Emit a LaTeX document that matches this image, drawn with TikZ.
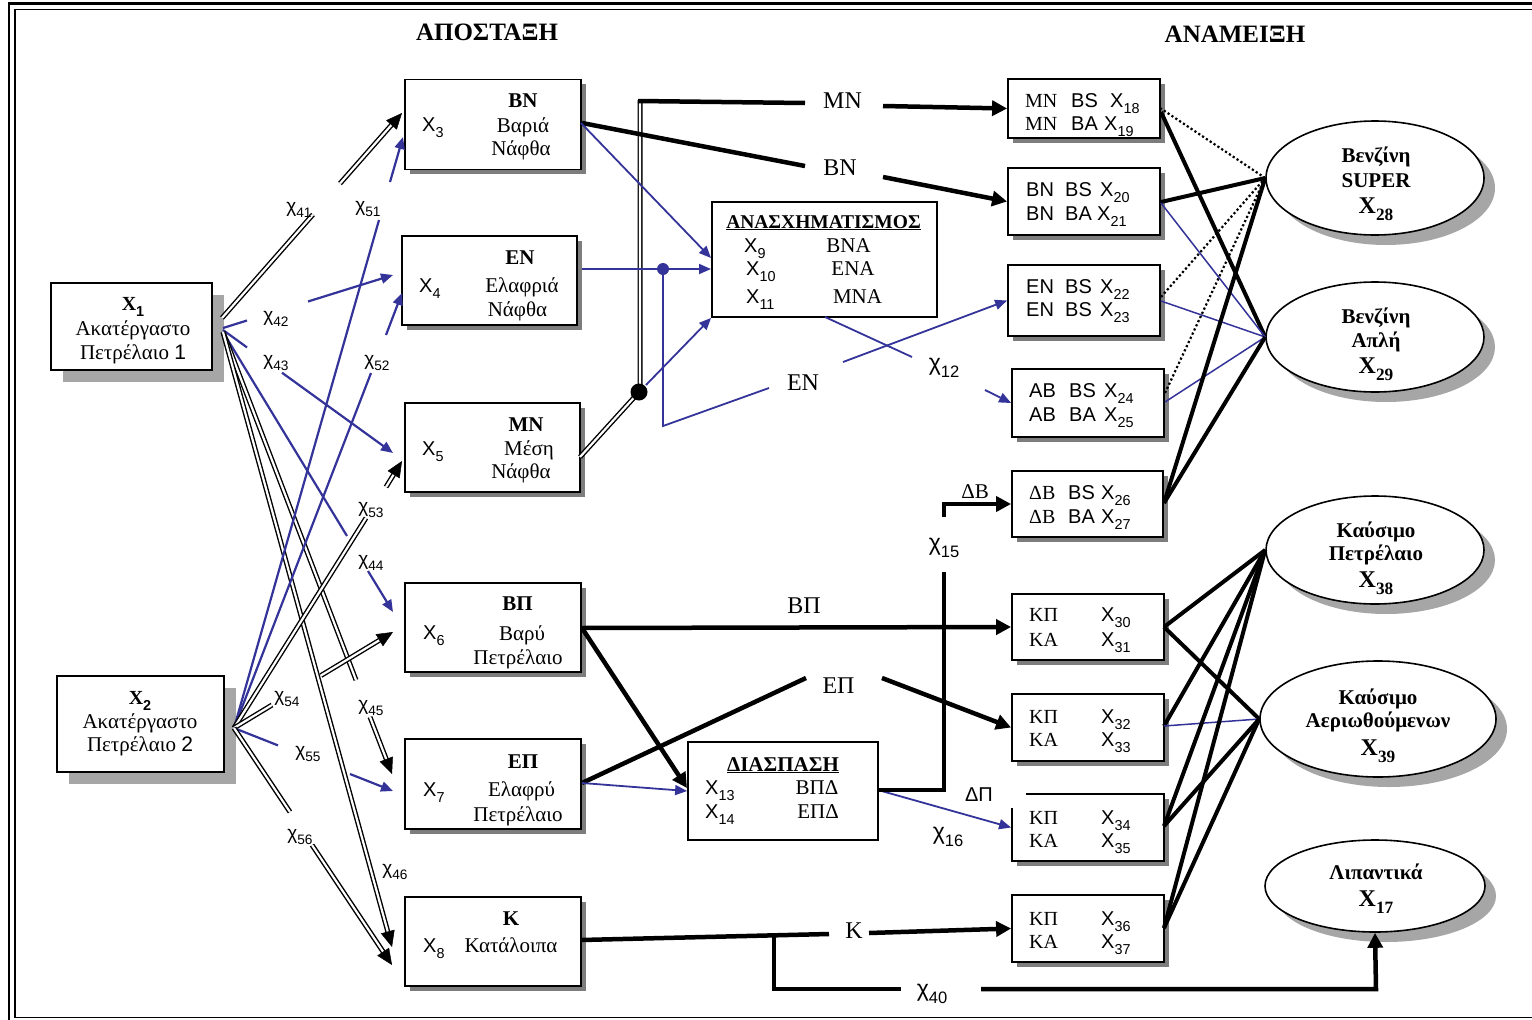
\documentclass[tikz,border=0pt]{standalone}
\usepackage{fontspec}
\usepackage{graphicx}
\setmainfont{Liberation Serif}
\setsansfont{Liberation Sans}
\usetikzlibrary{arrows.meta,shadows,shapes.geometric,calc}
\definecolor{bl}{RGB}{51,51,153}
\definecolor{shd}{RGB}{125,125,125}
\definecolor{shl}{RGB}{166,166,166}
\newcommand\sbs[1]{\raisebox{-0.3em}{\scalebox{0.72}{#1}}}
\newcommand\Xv[1]{\textsf{X\sbs{#1}}}
\newcommand\chv[1]{\textsf{χ\sbs{#1}}}
\newcommand\fsz[1]{\fontsize{#1}{#1}\selectfont}
\tikzset{
  pbox/.style={draw, line width=1.8pt, fill=white, inner sep=0pt, general shadow={fill=shd, shadow xshift=4.5pt, shadow yshift=-4.5pt}},
  nbox/.style={draw, line width=1.8pt, fill=white, inner sep=0pt},
  bigbox/.style={draw, line width=1.8pt, fill=white, inner sep=0pt, general shadow={fill=shl, shadow xshift=12pt, shadow yshift=-12pt}},
  oval/.style={ellipse, draw, line width=1.6pt, fill=white, inner sep=0pt, general shadow={fill=shl, shadow xshift=11pt, shadow yshift=-10pt}},
  txt/.style={anchor=base, inner sep=0pt, font=\fsz{21}},
  txl/.style={anchor=base west, inner sep=0pt, font=\fsz{20}},
  etx/.style={anchor=base, inner sep=0pt, font=\fsz{21}\bfseries},
  exx/.style={anchor=base, inner sep=0pt, font=\fsz{24}\bfseries},
  lab/.style={anchor=base, inner sep=0pt, font=\fsz{24}},
  chl/.style={inner sep=0pt, font=\fsz{19}},
  chr/.style={inner sep=0pt, font=\fsz{23}},
  dbl/.style={draw, line width=1.4pt, double=white, double distance=2.2pt},
  bln/.style={draw=bl, line width=2.2pt},
  bmid/.style={draw=bl, line width=1.8pt},
  bthin/.style={draw=bl, line width=1.5pt},
  tk/.style={draw, line width=4.5pt},
  mx/.style={draw, line width=4pt},
  dotl/.style={draw, line width=2.2pt, dash pattern=on 2.2pt off 2.4pt},
  ktip/.style={-{Triangle[length=15pt,width=15pt]}},
  btip/.style={-{Triangle[length=12pt,width=10pt]}},
  dtipw/.style={draw=white, line width=0.5pt, -{Triangle[length=16pt,width=14pt,color=black,fill=black]}}
}
% double line with a solid arrow tip
\newcommand\darr[3]{\draw[dbl, shorten >=9pt] (#1) -- (#2);
  \draw[dtipw] ($(#2)!22pt!(#1)$) coordinate (#3) -- (#2);}
\begin{document}
\begin{tikzpicture}[x=1pt,y=-1pt]
\useasboundingbox (0,0) rectangle (1532,1020);
% frame
\draw[line width=2.2pt] (9,3.5) rectangle (1580,1030);
\draw[line width=1.3pt] (15,9.5) rectangle (1570,1017.5);
% titles
\node[anchor=base,inner sep=0pt,font=\fsz{25}\bfseries] (tt1) at (487,40) {ΑΠΟΣΤΑΞΗ};
\node[anchor=base,inner sep=0pt,font=\fsz{25}\bfseries] (tt2) at (1235,42) {ΑΝΑΜΕΙΞΗ};
% boxes
\node[bigbox, minimum width=161pt, minimum height=87pt] (b1) at (131.5,326.5) {};
\node[bigbox, minimum width=167pt, minimum height=96pt] (b2) at (140.5,724) {};
\node[pbox, minimum width=176pt, minimum height=90pt] (b3) at (493,124.5) {};
\node[pbox, minimum width=175pt, minimum height=89pt] (b4) at (489.5,280.5) {};
\node[pbox, minimum width=175pt, minimum height=89pt] (b5) at (492.5,447.5) {};
\node[pbox, minimum width=176pt, minimum height=89pt] (b6) at (493,627.5) {};
\node[pbox, minimum width=176pt, minimum height=90pt] (b7) at (493,784) {};
\node[pbox, minimum width=176pt, minimum height=89pt] (b8) at (493,941.5) {};
\node[nbox, minimum width=225pt, minimum height=115pt] (bA) at (824.5,259.5) {};
\node[nbox, minimum width=190pt, minimum height=98pt] (bD) at (783,791) {};
\node[pbox, minimum width=152pt, minimum height=59pt] (b18) at (1084,108.5) {};
\node[pbox, minimum width=152pt, minimum height=67pt] (b20) at (1084,201.5) {};
\node[pbox, minimum width=152pt, minimum height=71pt] (b22) at (1084,300.5) {};
\node[pbox, minimum width=152pt, minimum height=68pt] (b24) at (1088,403) {};
\node[pbox, minimum width=151pt, minimum height=66pt] (b26) at (1087.5,504) {};
\node[pbox, minimum width=152pt, minimum height=66pt] (b30) at (1088,627) {};
\node[pbox, minimum width=152pt, minimum height=67pt] (b32) at (1088,727.5) {};
\node[pbox, minimum width=152pt, minimum height=67pt] (b34) at (1088,827.5) {};
\node[pbox, minimum width=152pt, minimum height=67pt] (b36) at (1088,928.5) {};
% ellipses
\node[oval, minimum width=218pt, minimum height=114pt] (e28) at (1375,178) {};
\node[oval, minimum width=218pt, minimum height=110pt] (e29) at (1375,337) {};
\node[oval, minimum width=218pt, minimum height=108pt] (e38) at (1375,550) {};
\node[oval, minimum width=236pt, minimum height=116pt] (e39) at (1378,719) {};
\node[oval, minimum width=220pt, minimum height=92pt] (e17) at (1375,886) {};
% ---- left connectors from X1
\draw[dbl] (222,318) -- (313,214.5);
\darr{340,183.5}{402,113}{k41}
\draw[bln] (223,328) -- (247,320.5);
\draw[bln,btip] (308,301.5) -- (393,275);
\draw[bln] (223,330) -- (247,347.4);
\draw[bln,btip] (282,372.7) -- (393,453);
\draw[bln] (223,332) -- (347,536);
\draw[bln,btip] (368,571) -- (393,612);
\draw[dbl] (223,332) -- (356,680);
\darr{370,717}{392,774}{k45}
\darr{223,332}{392,947}{k46}
% ---- from X2
\draw[bln] (234,728) -- (379,220);
\draw[bln,btip] (390,182) -- (403,137);
\draw[bln] (234,728) -- (371,373);
\draw[bln,btip] (386,335) -- (402,293);
\draw[dbl] (234,728) -- (366,518);
\darr{386,487}{402,461}{k53}
\draw[dbl] (234,728) -- (272,705);
\darr{321,675.5}{393,632}{k54}
\draw[bln] (234,728) -- (278,745.4);
\draw[bln,btip] (350,774) -- (393,791);
\draw[dbl] (234,728) -- (290,812);
\darr{312,845}{392,965}{k56}
% ---- middle
\draw[dbl] (580,457) -- (640,391) -- (640,100);
\draw[tk] (638,101) -- (805,103);
\draw[tk,ktip] (883,106) -- (b18.west);
\draw[tk] (582,123) -- (805,166);
\draw[tk,ktip] (883,177) -- (b20.west);
\draw[bmid,btip] (646,385) -- (bA.south west);
\draw[bmid,btip] (581,123) -- (711,258);
\draw[bmid,btip] (582,269) -- (711,269);
\draw[bmid] (663,269) -- (663,426) -- (769,388);
\draw[bmid,btip] (843,362) -- (b22.west);
\draw[bmid] (825,317) -- (912,357);
\draw[bmid,btip] (985,390) -- (b24.west);
\node[circle, fill=black, minimum size=17pt, inner sep=0pt] (jd) at (639,392) {};
\node[circle, fill=bl, minimum size=12pt, inner sep=0pt] (jb) at (663,269) {};
% ---- lower
\draw[tk,ktip] (581,628) -- (b30.west);
\draw[tk,ktip] (582,628) -- (687,788);
\draw[tk] (582,783) -- (806,678);
\draw[tk,ktip] (882,678) -- (b32.west);
\draw[bmid,btip] (582,783) -- (bD.west);
\draw[bmid,btip] (878,790) -- (b34.west);
\draw[tk] (878,790) -- (944,790) -- (944,572);
\draw[tk,ktip] (944,517) -- (944,504) -- (b26.west);
\draw[tk] (581,940) -- (829,934);
\draw[tk,ktip] (869,933) -- (b36.west);
\draw[tk] (774,937) -- (774,989) -- (901,989);
\draw[tk,ktip] (981,989) -- (1376,989) -- (e17.south);
% ---- mixing
\draw[dotl] (1160,108) -- (e28.west);
\draw[mx] (1161,112) -- (e29.west);
\draw[mx] (1161,202) -- (e28.west);
\draw[bthin] (1161,203) -- (e29.west);
\draw[dotl] (1161,297) -- (e28.west);
\draw[bthin] (1161,301) -- (e29.west);
\draw[dotl] (1165,393) -- (e28.west);
\draw[bthin] (1165,402) -- (e29.west);
\draw[mx] (1164,503) -- (e28.west);
\draw[mx] (1164,503) -- (e29.west);
\draw[mx] (1164,627) -- (e38.west);
\draw[mx] (1164,627) -- (e39.west);
\draw[mx] (1164,726) -- (e38.west);
\draw[bthin] (1164,726) -- (e39.west);
\draw[mx] (1164,826) -- (e38.west);
\draw[mx] (1164,826) -- (e39.west);
\draw[mx] (1164,928) -- (e38.west);
\draw[mx] (1164,928) -- (e39.west);
\fill[white] (1004,788) rectangle (1025.5,807.5);
% ---- texts X1, X2
\node[anchor=base,inner sep=0pt,font=\fsz{20}\bfseries] (t1a) at (133,310) {X\sbs{\textsf{1}}};
\node[txt] (t1b) at (133,335) {Ακατέργαστο};
\node[txt] (t1c) at (133,359) {Πετρέλαιο \textsf{1}};
\node[anchor=base,inner sep=0pt,font=\fsz{20}\bfseries] (t2a) at (140,704) {X\sbs{\textsf{2}}};
\node[txt] (t2b) at (140,728) {Ακατέργαστο};
\node[txt] (t2c) at (140,751) {Πετρέλαιο \textsf{2}};
% process boxes
\node[txt] (t3a) at (523,107) {\textbf{ΒΝ}};
\node[txt] (t3b) at (523,132) {Βαριά};
\node[txt] (t3c) at (521,155) {Νάφθα};
\node[txl] (t3x) at (422,131) {\Xv{3}};
\node[txt] (t4a) at (520,264) {\textbf{ΕΝ}};
\node[txt] (t4b) at (522,292) {Ελαφριά};
\node[txt] (t4c) at (517.5,316) {Νάφθα};
\node[txl] (t4x) at (419,292) {\Xv{4}};
\node[txt] (t5a) at (526,431) {\textbf{ΜΝ}};
\node[txt] (t5b) at (529,455) {Μέση};
\node[txt] (t5c) at (521,478) {Νάφθα};
\node[txl] (t5x) at (422,455) {\Xv{5}};
\node[txt] (t6a) at (517.5,610) {\textbf{ΒΠ}};
\node[txt] (t6b) at (522,640) {Βαρύ};
\node[txt] (t6c) at (518,664) {Πετρέλαιο};
\node[txl] (t6x) at (423,639) {\Xv{6}};
\node[txt] (t7a) at (523,768) {\textbf{ΕΠ}};
\node[txt] (t7b) at (521.5,796) {Ελαφρύ};
\node[txt] (t7c) at (518,821) {Πετρέλαιο};
\node[txl] (t7x) at (423,796) {\Xv{7}};
\node[txt] (t8a) at (511,925) {\textbf{Κ}};
\node[txt] (t8b) at (511,952) {Κατάλοιπα};
\node[txl] (t8x) at (423,952) {\Xv{8}};
% reforming
\node[anchor=base,inner sep=0pt,font=\fsz{19.5}\bfseries] (tA) at (823.5,228) {\underline{ΑΝΑΣΧΗΜΑΤΙΣΜΟΣ}};
\node[txl] (tA9) at (744,252) {\Xv{9}};
\node[txt] (tA9b) at (848.5,252) {ΒΝΑ};
\node[txl] (tA10) at (746,275) {\Xv{10}};
\node[txt] (tA10b) at (853,275) {ΕΝΑ};
\node[txl] (tA11) at (746,303) {\Xv{11}};
\node[txt] (tA11b) at (857.5,303) {ΜΝΑ};
% cracking
\node[anchor=base,inner sep=0pt,font=\fsz{21}\bfseries] (tD) at (783,771) {\underline{ΔΙΑΣΠΑΣΗ}};
\node[txl] (tD13) at (705,794) {\Xv{13}};
\node[txt] (tD13b) at (817,794) {ΒΠΔ};
\node[txl] (tD14) at (705,818) {\Xv{14}};
\node[txt] (tD14b) at (818,818) {ΕΠΔ};
% blend boxes
\node[txl] (r18a) at (1025,107) {ΜΝ};
\node[txl] (r18b) at (1071,107) {\textsf{BS}};
\node[txl] (r18c) at (1110,107) {\Xv{18}};
\node[txl] (r19a) at (1025,130) {ΜΝ};
\node[txl] (r19b) at (1071,130) {\textsf{BA}};
\node[txl] (r19c) at (1104,130) {\Xv{19}};
\node[txl] (r20a) at (1026,196) {\textsf{BN}};
\node[txl] (r20b) at (1065,196) {\textsf{BS}};
\node[txl] (r20c) at (1100,196) {\Xv{20}};
\node[txl] (r21a) at (1026,220) {\textsf{BN}};
\node[txl] (r21b) at (1065,220) {\textsf{BA}};
\node[txl] (r21c) at (1097,220) {\Xv{21}};
\node[txl] (r22a) at (1026,293) {\textsf{EN}};
\node[txl] (r22b) at (1065,293) {\textsf{BS}};
\node[txl] (r22c) at (1100,293) {\Xv{22}};
\node[txl] (r23a) at (1026,316) {\textsf{EN}};
\node[txl] (r23b) at (1065,316) {\textsf{BS}};
\node[txl] (r23c) at (1100,316) {\Xv{23}};
\node[txl] (r24a) at (1029,397) {\textsf{AB}};
\node[txl] (r24b) at (1069,397) {\textsf{BS}};
\node[txl] (r24c) at (1104,397) {\Xv{24}};
\node[txl] (r25a) at (1029,421) {\textsf{AB}};
\node[txl] (r25b) at (1069,421) {\textsf{BA}};
\node[txl] (r25c) at (1104,421) {\Xv{25}};
\node[txl] (r26a) at (1029,499) {ΔΒ};
\node[txl] (r26b) at (1068,499) {\textsf{BS}};
\node[txl] (r26c) at (1101,499) {\Xv{26}};
\node[txl] (r27a) at (1029,523) {ΔΒ};
\node[txl] (r27b) at (1068,523) {\textsf{BA}};
\node[txl] (r27c) at (1101,523) {\Xv{27}};
\node[txl] (r30a) at (1029,621) {ΚΠ};
\node[txl] (r30c) at (1101,621) {\Xv{30}};
\node[txl] (r31a) at (1029,646) {ΚΑ};
\node[txl] (r31c) at (1101,646) {\Xv{31}};
\node[txl] (r32a) at (1029,723) {ΚΠ};
\node[txl] (r32c) at (1101,723) {\Xv{32}};
\node[txl] (r33a) at (1029,746) {ΚΑ};
\node[txl] (r33c) at (1101,746) {\Xv{33}};
\node[txl] (r34a) at (1029,824) {ΚΠ};
\node[txl] (r34c) at (1101,824) {\Xv{34}};
\node[txl] (r35a) at (1029,847) {ΚΑ};
\node[txl] (r35c) at (1101,847) {\Xv{35}};
\node[txl] (r36a) at (1029,925) {ΚΠ};
\node[txl] (r36c) at (1101,925) {\Xv{36}};
\node[txl] (r37a) at (1029,948) {ΚΑ};
\node[txl] (r37c) at (1101,948) {\Xv{37}};
% ellipse texts
\node[etx] (s28a) at (1376,162) {Βενζίνη};
\node[etx] (s28b) at (1376,187) {SUPER};
\node[exx] (s28c) at (1376,213) {X\sbs{28}};
\node[etx] (s29a) at (1376,323) {Βενζίνη};
\node[etx] (s29b) at (1376,347) {Απλή};
\node[exx] (s29c) at (1376,373) {X\sbs{29}};
\node[etx] (s38a) at (1376,537) {Καύσιμο};
\node[etx] (s38b) at (1376,560) {Πετρέλαιο};
\node[exx] (s38c) at (1376,587) {X\sbs{38}};
\node[etx] (s39a) at (1378,704) {Καύσιμο};
\node[etx] (s39b) at (1378,727) {Αεριωθούμενων};
\node[exx] (s39c) at (1378,755) {X\sbs{39}};
\node[etx] (s17a) at (1376,879) {Λιπαντικά};
\node[exx] (s17c) at (1376,906) {X\sbs{17}};
% stream labels
\node[lab] (lMN) at (842.5,108) {ΜΝ};
\node[lab] (lBN) at (840,175) {ΒΝ};
\node[lab] (lEN) at (803,390) {ΕΝ};
\node[lab] (lBP) at (804,613) {ΒΠ};
\node[lab] (lEP) at (838.5,693) {ΕΠ};
\node[lab] (lK) at (854,938) {Κ};
\node[anchor=base,inner sep=0pt,font=\fsz{21}] (lDB) at (975,498) {ΔΒ};
\node[anchor=base,inner sep=0pt,font=\fsz{20}\sffamily] (lDP) at (979,801) {ΔΠ};
% chi labels
\node[chl] (c41) at (299,210) {\chv{41}};
\node[chl] (c51) at (368,209) {\chv{51}};
\node[chl] (c42) at (276,319) {\chv{42}};
\node[chl] (c43) at (276,363) {\chv{43}};
\node[chl] (c52) at (377,363) {\chv{52}};
\node[chl] (c53) at (371,510) {\chv{53}};
\node[chl] (c44) at (371,563) {\chv{44}};
\node[chl] (c54) at (287,699) {\chv{54}};
\node[chl] (c45) at (371,708) {\chv{45}};
\node[chl] (c55) at (308,754) {\chv{55}};
\node[chl] (c56) at (300,837) {\chv{56}};
\node[chl] (c46) at (395,872) {\chv{46}};
\node[chr] (c12) at (944,368) {\chv{12}};
\node[chr] (c15) at (944,548) {\chv{15}};
\node[chr] (c16) at (948,837) {\chv{16}};
\node[chr] (c40) at (932,994) {\chv{40}};
\end{tikzpicture}
\end{document}
